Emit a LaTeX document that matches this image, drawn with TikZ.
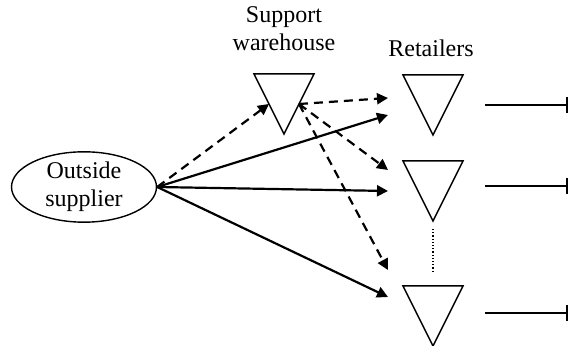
\documentclass[tikz,border=0pt]{standalone}
\usepackage{fontspec}
\setmainfont{Liberation Serif}
\usetikzlibrary{arrows.meta,shapes.geometric}

\begin{document}
\begin{tikzpicture}[
    x=0.5pt, y=-0.5pt,
    mytriangle/.style={
    isosceles triangle,
    isosceles triangle stretches,
    shape border rotate=-90,
    draw=black,
    line width=0.75pt,
    minimum width=30pt,
    minimum height=30pt,
    inner sep=0pt,
    outer sep=0pt,
    anchor=lower side},
    myellipse/.style={
    ellipse,
    draw=black,
    line width=0.7pt,
    minimum width=72.5pt,
    minimum height=34pt,
    inner sep=0pt,
    align=center,
    font=\fontsize{12}{14}\selectfont},
    mylabel/.style={align=center,font=\fontsize{12}{14}\selectfont},
    myarrow/.style={-{Triangle[length=5.5pt,width=5.5pt]},line width=1.1pt},
    mydashed/.style={myarrow,dash pattern=on 4.5pt off 3pt},
    myoutput/.style={-{Bar[width=8pt]},line width=1.1pt}
    ]
    \useasboundingbox (0,0) rectangle (569,346);

    \node[myellipse] (sup) at (84,187) {Outside\\supplier};
    \node[mytriangle] (wh) at (284,74) {};
    \node[mytriangle] (r1) at (433,75) {};
    \node[mytriangle] (r2) at (433,161) {};
    \node[mytriangle] (r3) at (433,286) {};
    \node[mylabel] (whlabel) at (284,29) {Support\\warehouse};
    \node[mylabel, anchor=base] (rlabel) at (431,57) {Retailers};

    \coordinate (a1) at (388,115);
    \coordinate (a2) at (388,191);
    \coordinate (a3) at (388,297);
    \coordinate (b1) at (388,98);
    \coordinate (b2) at (388,170);
    \coordinate (b3) at (388,270);
    \coordinate (o1) at (568,105);
    \coordinate (o2) at (568,186);
    \coordinate (o3) at (568,313);

    \draw[mydashed] (sup.east) -- (wh.right side);
    \draw[myarrow] (sup.east) -- (a1);
    \draw[myarrow] (sup.east) -- (a2);
    \draw[myarrow] (sup.east) -- (a3);
    \draw[mydashed] (wh.left side) -- (b1);
    \draw[mydashed] (wh.left side) -- (b2);
    \draw[mydashed] (wh.left side) -- (b3);

    \draw[myoutput] (o1 -| r1.left side) ++(37,0) -- (o1);
    \draw[myoutput] (o2 -| r2.left side) ++(37,0) -- (o2);
    \draw[myoutput] (o3 -| r3.left side) ++(37,0) -- (o3);
    \draw[densely dotted, line width=0.6pt, shorten <=4pt, shorten >=6.5pt] (r2.apex) -- (r3.lower side);
\end{tikzpicture}
\end{document}
